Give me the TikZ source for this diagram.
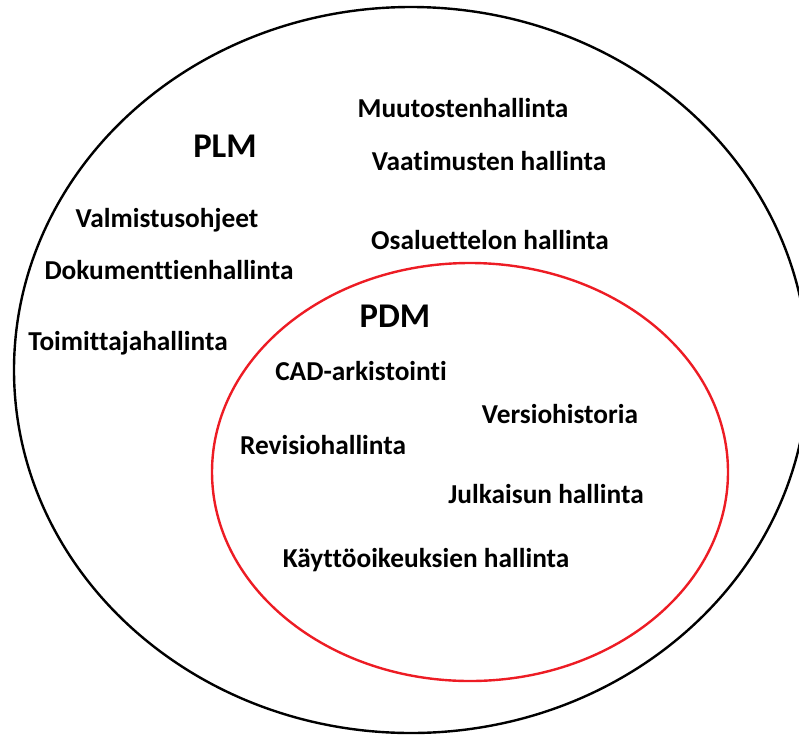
\documentclass[tikz,border=0pt]{standalone}
\usepackage{fontspec}
\setmainfont{Carlito}[Ligatures=NoCommon]
\usetikzlibrary{positioning}
\definecolor{pdmred}{RGB}{237,28,36}

\begin{document}
\begin{tikzpicture}[
    x=0.75pt, y=-0.75pt,
    font=\bfseries\fontsize{20.5}{24}\selectfont,
    item_style/.style={anchor=base, inner sep=0pt},
    title_style/.style={anchor=base, inner sep=0pt, font=\bfseries\fontsize{26}{30}\selectfont},
    set_style/.style={line width=1.8pt}
]
\useasboundingbox (0,0) rectangle (799,736);
\clip (0,0) rectangle (799,736);

% the two sets
\draw[set_style, black] (411,370) ellipse [x radius=397, y radius=363];
\draw[set_style, pdmred] (470,472) ellipse [x radius=258, y radius=209];

% PLM
\node[title_style] (plm) at (225,157) {PLM};
\node[item_style] (muutos) at (463,117) {Muutostenhallinta};
\node[item_style] (vaatimus) at (489,170) {Vaatimusten hallinta};
\node[item_style] (valmistus) at (167,227) {Valmistusohjeet};
\node[item_style] (osaluettelo) at (490,249) {Osaluettelon hallinta};
\node[item_style] (dokumentti) at (169,279) {Dokumenttienhallinta};
\node[item_style] (toimittaja) at (128,350) {Toimittajahallinta};

% PDM
\node[title_style] (pdm) at (395,327) {PDM};
\node[item_style] (cad) at (361,380) {CAD-arkistointi};
\node[item_style] (versio) at (560,423) {Versiohistoria};
\node[item_style] (revisio) at (323,454) {Revisiohallinta};
\node[item_style] (julkaisu) at (546,503) {Julkaisun hallinta};
\node[item_style] (kaytto) at (426,567) {Käyttöoikeuksien hallinta};

\end{tikzpicture}
\end{document}
